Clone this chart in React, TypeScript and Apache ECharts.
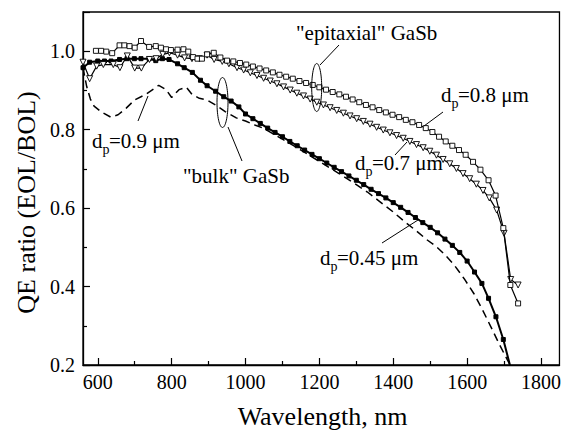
import React, { useEffect, useRef } from "react";
import * as echarts from "echarts";

const FONT = "Liberation Serif";

// "epitaxial" GaSb, d_p = 0.8 um (open squares)
const epi08X = [595, 609, 623, 639, 659, 672, 686, 700, 717, 739, 757, 771, 785, 798, 816, 832, 845, 858, 870, 882, 896, 914, 932, 950, 967, 985, 1002, 1020, 1038, 1056, 1074, 1092, 1110, 1128, 1146, 1164, 1182, 1200, 1218, 1236, 1254, 1272, 1290, 1308, 1326, 1344, 1362, 1380, 1398, 1416, 1434, 1452, 1470, 1488, 1506, 1524, 1542, 1560, 1578, 1596, 1616, 1636, 1658, 1677, 1698, 1717, 1738];
const epi08Y = [1.001, 1.001, 0.999, 0.995, 1.015, 1.015, 1.013, 1.009, 1.026, 1.011, 1.013, 1.009, 1.005, 1.003, 1.004, 1.005, 0.999, 0.985, 0.981, 0.981, 0.992, 0.996, 0.984, 0.976, 0.974, 0.970, 0.966, 0.961, 0.956, 0.951, 0.946, 0.940, 0.935, 0.930, 0.924, 0.919, 0.914, 0.908, 0.902, 0.896, 0.890, 0.884, 0.877, 0.870, 0.863, 0.857, 0.850, 0.844, 0.838, 0.832, 0.825, 0.819, 0.812, 0.804, 0.794, 0.782, 0.770, 0.759, 0.748, 0.736, 0.718, 0.698, 0.671, 0.632, 0.549, 0.404, 0.357];

// "epitaxial" GaSb, d_p = 0.7 um (open down-triangles)
const epi07X = [560, 578, 597, 615, 642, 660, 680, 700, 718, 740, 758, 776, 794, 816, 835, 855, 875, 896, 915, 937, 955, 977, 995, 1013, 1031, 1049, 1067, 1085, 1103, 1121, 1139, 1157, 1175, 1193, 1211, 1229, 1247, 1265, 1283, 1301, 1319, 1337, 1355, 1373, 1391, 1409, 1427, 1445, 1463, 1481, 1499, 1517, 1535, 1553, 1571, 1589, 1607, 1625, 1643, 1660, 1680, 1700, 1718, 1738];
const epi07Y = [0.972, 0.930, 0.962, 0.966, 0.966, 0.958, 0.988, 0.957, 0.957, 0.979, 0.981, 0.992, 0.996, 0.990, 0.983, 0.981, 0.981, 0.990, 0.979, 0.974, 0.968, 0.958, 0.952, 0.945, 0.938, 0.931, 0.924, 0.917, 0.909, 0.901, 0.893, 0.886, 0.878, 0.870, 0.863, 0.856, 0.849, 0.842, 0.835, 0.828, 0.821, 0.814, 0.806, 0.799, 0.792, 0.785, 0.778, 0.770, 0.762, 0.754, 0.745, 0.735, 0.724, 0.713, 0.701, 0.688, 0.675, 0.661, 0.645, 0.626, 0.595, 0.536, 0.418, 0.404];

// "bulk" GaSb, d_p = 0.45 um (filled squares)
const bulk045X = [560, 578, 600, 618, 636, 659, 679, 699, 717, 739, 757, 775, 793, 816, 834, 856, 878, 896, 919, 941, 961, 982, 1000, 1020, 1040, 1060, 1080, 1100, 1120, 1140, 1160, 1180, 1200, 1220, 1240, 1260, 1280, 1300, 1320, 1340, 1360, 1380, 1400, 1420, 1440, 1460, 1480, 1500, 1520, 1540, 1560, 1580, 1600, 1620, 1640, 1658, 1678, 1698, 1718];
const bulk045Y = [0.958, 0.972, 0.975, 0.975, 0.975, 0.979, 0.981, 0.981, 0.981, 0.981, 0.976, 0.981, 0.979, 0.968, 0.958, 0.946, 0.926, 0.912, 0.898, 0.884, 0.873, 0.858, 0.840, 0.828, 0.816, 0.804, 0.793, 0.782, 0.770, 0.759, 0.748, 0.737, 0.726, 0.715, 0.704, 0.693, 0.682, 0.671, 0.660, 0.648, 0.637, 0.626, 0.614, 0.602, 0.589, 0.576, 0.563, 0.551, 0.537, 0.521, 0.505, 0.487, 0.465, 0.437, 0.408, 0.370, 0.323, 0.265, 0.192];

// "bulk" GaSb, d_p = 0.9 um (dashed)
const bulk09X = [560, 570, 580, 590, 610, 635, 655, 677, 700, 730, 765, 785, 800, 820, 840, 855, 875, 897, 920, 945, 975, 1000, 1025, 1050, 1075, 1100, 1150, 1200, 1250, 1300, 1330, 1360, 1400, 1430, 1460, 1490, 1515, 1540, 1565, 1592, 1619, 1642, 1664, 1686, 1709, 1722];
const bulk09Y = [0.958, 0.910, 0.878, 0.860, 0.845, 0.832, 0.838, 0.855, 0.876, 0.890, 0.913, 0.902, 0.882, 0.902, 0.908, 0.890, 0.880, 0.875, 0.862, 0.846, 0.830, 0.822, 0.812, 0.803, 0.789, 0.776, 0.748, 0.719, 0.690, 0.660, 0.641, 0.619, 0.590, 0.566, 0.544, 0.520, 0.503, 0.481, 0.455, 0.420, 0.381, 0.340, 0.298, 0.255, 0.213, 0.190];

const xMajorTicks = [600, 800, 1000, 1200, 1400, 1600, 1800];
const xMinorTicks = [700, 900, 1100, 1300, 1500, 1700];

const zip = (xs: number[], ys: number[]) => xs.map((x, i) => [x, ys[i]]);

function txt(x: number, y: number, text: string, size: number, align = "left", rotation = 0) {
  return {
    type: "text",
    x,
    y,
    rotation,
    z: 100,
    style: {
      text,
      fontSize: size,
      fontFamily: FONT,
      fontWeight: "normal",
      fill: "#000",
      align,
      verticalAlign: "middle",
    },
  };
}

function dLabel(x: number, baseline: number, rest: string) {
  return [
    txt(x, baseline - 7.1, "d", 21),
    txt(x + 10.5, baseline + 1.5, "p", 14),
    txt(x + 17, baseline - 7.1, rest, 21),
  ];
}

function seg(x1: number, y1: number, x2: number, y2: number) {
  return {
    type: "line",
    z: 100,
    shape: { x1, y1, x2, y2 },
    style: { stroke: "#000", lineWidth: 1 },
  };
}

function ell(cx: number, cy: number, rx: number, ry: number) {
  return {
    type: "ellipse",
    z: 100,
    shape: { cx, cy, rx, ry },
    style: { stroke: "#000", fill: "none", lineWidth: 1 },
  };
}

export default function App() {
  const ref = useRef<HTMLDivElement>(null);

  useEffect(() => {
    document.body.style.margin = "0";
    if (!ref.current) return;
    const chart = echarts.init(ref.current, undefined, { renderer: "svg" });

    const axisFont = { color: "#000", fontFamily: FONT, fontSize: 20, fontWeight: "normal" };

    chart.setOption({
      animation: false,
      grid: {
        left: 83,
        right: 2,
        top: 12,
        bottom: 65,
        show: true,
        borderColor: "#000",
        borderWidth: 1.3,
      },
      xAxis: [
        {
          type: "value",
          min: 560,
          max: 1850,
          position: "bottom",
          axisLine: { show: true, lineStyle: { color: "#000", width: 1.3 } },
          axisTick: { show: true, inside: true, length: 7, customValues: xMajorTicks, lineStyle: { color: "#000", width: 1.2 } },
          axisLabel: { ...axisFont, margin: 7, customValues: xMajorTicks, formatter: (v: number) => String(v) },
          splitLine: { show: false },
        },
        {
          type: "value",
          min: 560,
          max: 1850,
          position: "bottom",
          axisLine: { show: false },
          axisTick: { show: true, inside: true, length: 4, customValues: xMinorTicks, lineStyle: { color: "#000", width: 1.2 } },
          axisLabel: { show: false },
          splitLine: { show: false },
        },
      ],
      yAxis: {
        type: "value",
        min: 0.2,
        max: 1.1,
        interval: 0.2,
        axisLine: { show: true, lineStyle: { color: "#000", width: 1.3 } },
        axisTick: { show: true, inside: true, length: 7, lineStyle: { color: "#000", width: 1.2 } },
        minorTick: { show: true, splitNumber: 2, length: 4, lineStyle: { color: "#000", width: 1.2 } },
        axisLabel: {
          ...axisFont,
          margin: 8,
          showMaxLabel: false,
          formatter: (v: number) => (v > 1.05 ? "" : v.toFixed(1)),
        },
        splitLine: { show: false },
        minorSplitLine: { show: false },
      },
      series: [
        {
          name: "bulk 0.9",
          type: "line",
          data: zip(bulk09X, bulk09Y),
          showSymbol: false,
          symbol: "none",
          lineStyle: { color: "#000", width: 1.5, type: [8, 5] },
          z: 2,
        },
        {
          name: "bulk 0.45",
          type: "line",
          data: zip(bulk045X, bulk045Y),
          symbol: "rect",
          symbolSize: 4,
          itemStyle: { color: "#000", borderColor: "#000" },
          lineStyle: { color: "#000", width: 2 },
          z: 3,
        },
        {
          name: "epitaxial 0.7",
          type: "line",
          data: zip(epi07X, epi07Y),
          symbol: "triangle",
          symbolRotate: 180,
          symbolSize: 6,
          itemStyle: { color: "#fff", borderColor: "#000", borderWidth: 0.9 },
          lineStyle: { color: "#000", width: 1.2 },
          z: 4,
        },
        {
          name: "epitaxial 0.8",
          type: "line",
          data: zip(epi08X, epi08Y),
          symbol: "rect",
          symbolSize: 5,
          itemStyle: { color: "#fff", borderColor: "#000", borderWidth: 0.9 },
          lineStyle: { color: "#000", width: 1.2 },
          z: 5,
        },
      ],
      graphic: [
        txt(26, 202.5, "QE ratio (EOL/BOL)", 26, "center", Math.PI / 2),
        txt(322.5, 416, "Wavelength, nm", 26, "center"),
        txt(296, 33, '"epitaxial" GaSb', 21),
        seg(339, 45, 320, 65),
        ell(316.7, 87.5, 5, 24),
        txt(183, 175.6, '"bulk" GaSb', 21),
        ell(222.5, 102.5, 5.5, 25),
        seg(228, 127, 242, 161),
        ...dLabel(92, 148, "=0.9 μm"),
        seg(138, 121, 148, 96),
        ...dLabel(441, 102, "=0.8 μm"),
        seg(443, 112, 424, 126),
        ...dLabel(355, 170, "=0.7 μm"),
        seg(407, 142, 395, 155),
        ...dLabel(320, 265, "=0.45 μm"),
        seg(382, 243, 418, 220),
      ],
    });

    return () => chart.dispose();
  }, []);

  return (
    <div
      ref={ref}
      style={{ position: "fixed", left: 0, top: 0, width: 564, height: 430, background: "#fff" }}
    />
  );
}
